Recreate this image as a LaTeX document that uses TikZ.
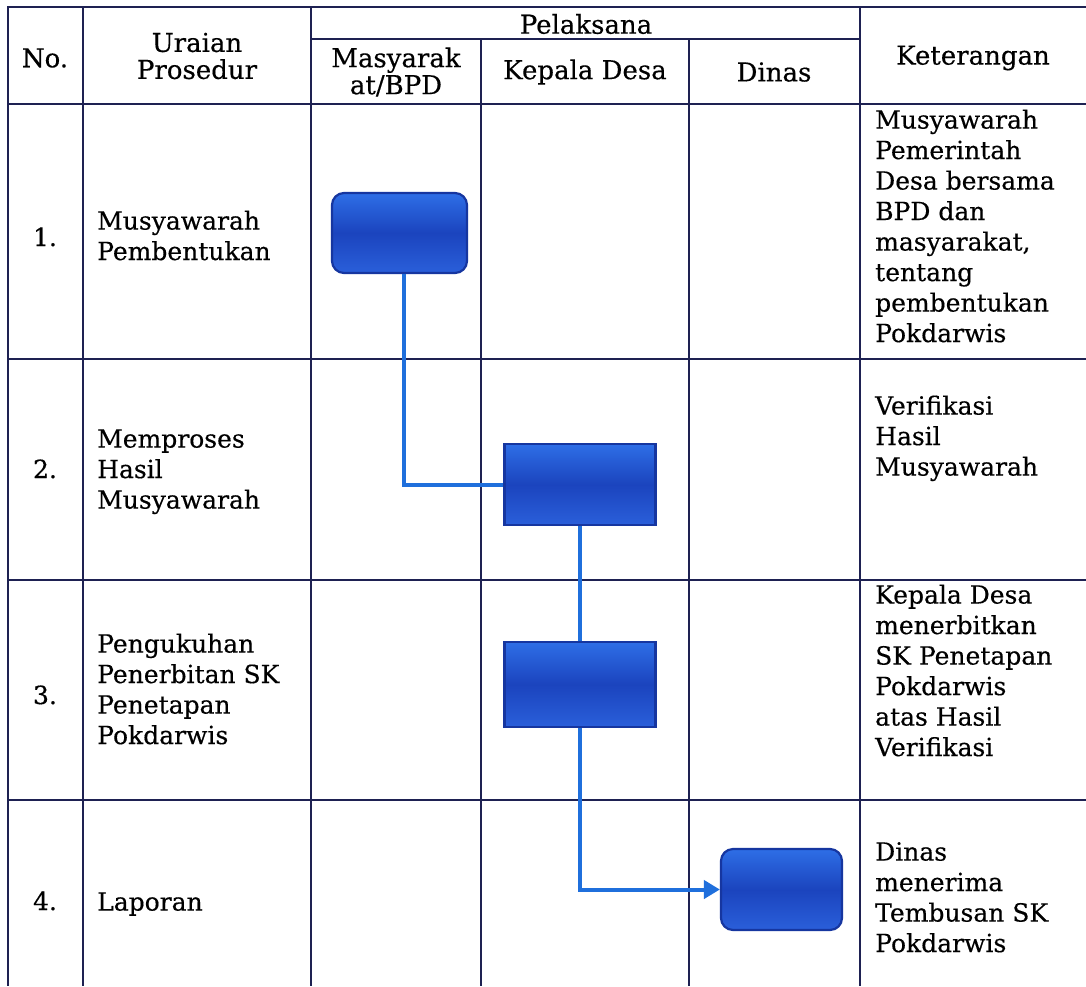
\documentclass[tikz,border=0pt]{standalone}
\usepackage{fontspec}
\setmainfont{DejaVu Serif}[FakeBold=0.4]
\usetikzlibrary{arrows.meta}
\definecolor{gridblue}{HTML}{1E2152}
\definecolor{boxtop}{HTML}{2E6EE6}
\definecolor{boxmid}{HTML}{1B44BE}
\definecolor{boxbot}{HTML}{2A5FDA}
\definecolor{boxedge}{HTML}{1636A0}
\definecolor{flowblue}{HTML}{1F6FDC}
\tikzset{
  gridline/.style={gridblue, line width=2pt},
  proc/.style={draw=boxedge, line width=2.2pt, top color=boxtop, bottom color=boxbot, middle color=boxmid, inner sep=0pt},
  flow/.style={flowblue, line width=4pt},
  head/.style={font=\fontsize{26}{27}\selectfont, align=center, inner sep=0pt},
  cell/.style={font=\fontsize{25}{30.5}\selectfont, align=left, inner sep=0pt, anchor=north west},
  num/.style={font=\fontsize{25}{30.5}\selectfont, inner sep=0pt, anchor=base},
}
\begin{document}
\begin{tikzpicture}[x=1pt, y=-1pt]
\useasboundingbox (0,0) rectangle (1086,986);
\fill[white] (0,0) rectangle (1086,986);
% table lines
\draw[gridline] (1086,7)--(8,7)--(8,986);
\draw[gridline] (8,104)--(1086,104);
\draw[gridline] (311,39)--(860,39);
\foreach \x in {83,311,860} \draw[gridline] (\x,7)--(\x,986);
\foreach \x in {481,689} \draw[gridline] (\x,39)--(\x,986);
\foreach \y in {359,580,800} \draw[gridline] (8,\y)--(1086,\y);

% header
\node[head] (hno) at (45,58) {No.};
\node[head] (hura) at (197,56) {Uraian\\Prosedur};
\node[head] (hpel) at (586,24) {Pelaksana};
\node[head] (hmas) at (396,72) {Masyarak\\at/BPD};
\node[head] (hkep) at (585,72) {Kepala Desa};
\node[head] (hdin) at (774,72) {Dinas};
\node[head] (hket) at (973,58) {Keterangan};

% nomor dan uraian
\node[num] (n1) at (45,246) {1.};
\node[num] (n2) at (45,478) {2.};
\node[num] (n3) at (45,704) {3.};
\node[num] (n4) at (45,910) {4.};
\node[cell] (u1) at (97,208) {\strut Musyawarah\\Pembentukan};
\node[cell] (u2) at (97,426) {\strut Memproses\\Hasil\\Musyawarah};
\node[cell] (u3) at (97,631) {\strut Pengukuhan\\Penerbitan SK\\Penetapan\\Pokdarwis};
\node[cell] (u4) at (97,889) {\strut Laporan};

% keterangan
\node[cell] (k1) at (875,107) {\strut Musyawarah\\Pemerintah\\Desa bersama\\BPD dan\\masyarakat,\\tentang\\pembentukan\\Pokdarwis};
\node[cell] (k2) at (875,393) {\strut Verifikasi\\Hasil\\Musyawarah};
\node[cell] (k3) at (875,582) {\strut Kepala Desa\\menerbitkan\\SK Penetapan\\Pokdarwis\\atas Hasil\\Verifikasi};
\node[cell] (k4) at (875,839) {\strut Dinas\\menerima\\Tembusan SK\\Pokdarwis};

% alur
\node[proc, rounded corners=12pt, minimum width=135pt, minimum height=80pt] (b1) at (399.5,233) {};
\node[proc, minimum width=151pt, minimum height=81pt] (b2) at (580,484.5) {};
\node[proc, minimum width=151pt, minimum height=85pt] (b3) at (580,684.5) {};
\node[proc, rounded corners=12pt, minimum width=121pt, minimum height=81pt] (b4) at (781.5,889.5) {};
\draw[flow] ([xshift=4pt]b1.south) |- (b2.west);
\draw[flow] (b2.south) -- (b3.north);
\draw[flow, -{Triangle[length=16pt,width=18pt]}] (b3.south) |- (b4.west);
\end{tikzpicture}
\end{document}
